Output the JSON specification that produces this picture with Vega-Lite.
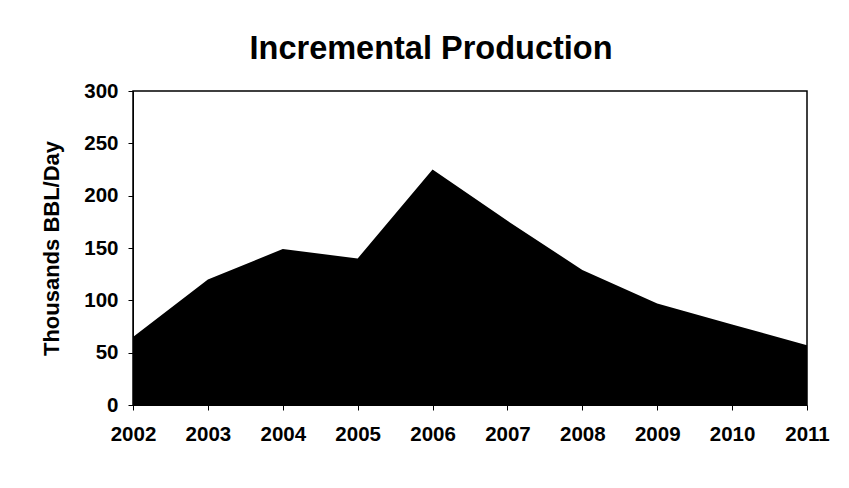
{
  "$schema": "https://vega.github.io/schema/vega-lite/v6.json",
  "width": 674,
  "height": 314,
  "autosize": {"type": "none"},
  "padding": {"left": 133, "top": 91, "right": 42, "bottom": 83},
  "background": "white",
  "title": {
    "text": "Incremental Production",
    "font": "Liberation Sans",
    "fontSize": 32.5,
    "fontWeight": "bold",
    "color": "#000",
    "anchor": "middle",
    "frame": "bounds",
    "offset": 16,
    "dx": -4
  },
  "data": {
    "values": [
      {"year": 2002, "production": 65},
      {"year": 2003, "production": 120},
      {"year": 2004, "production": 149},
      {"year": 2005, "production": 140},
      {"year": 2006, "production": 225},
      {"year": 2007, "production": 176},
      {"year": 2008, "production": 129},
      {"year": 2009, "production": 97},
      {"year": 2010, "production": 77},
      {"year": 2011, "production": 57}
    ]
  },
  "mark": {"type": "area", "color": "#000", "opacity": 1, "interpolate": "linear"},
  "encoding": {
    "x": {
      "field": "year",
      "type": "quantitative",
      "scale": {"domain": [2002, 2011], "nice": false, "zero": false},
      "axis": {
        "title": null,
        "values": [2002, 2003, 2004, 2005, 2006, 2007, 2008, 2009, 2010, 2011],
        "format": "d",
        "grid": false,
        "tickSize": 5,
        "labelPadding": 14,
        "labelFont": "Liberation Sans",
        "labelFontSize": 20.5,
        "labelFontWeight": "bold",
        "labelColor": "#000",
        "domainColor": "#000",
        "tickColor": "#000",
        "labelFlush": false
      }
    },
    "y": {
      "field": "production",
      "type": "quantitative",
      "scale": {"domain": [0, 300], "nice": false},
      "axis": {
        "title": "Thousands BBL/Day",
        "values": [0, 50, 100, 150, 200, 250, 300],
        "grid": false,
        "tickSize": 5,
        "labelPadding": 10,
        "labelFont": "Liberation Sans",
        "labelFontSize": 20.5,
        "labelFontWeight": "bold",
        "labelColor": "#000",
        "titleFont": "Liberation Sans",
        "titleFontSize": 22,
        "titleFontWeight": "bold",
        "titleColor": "#000",
        "titlePadding": 20,
        "domainColor": "#000",
        "tickColor": "#000"
      }
    }
  },
  "config": {
    "view": {"stroke": "#000", "strokeWidth": 1.5}
  }
}
